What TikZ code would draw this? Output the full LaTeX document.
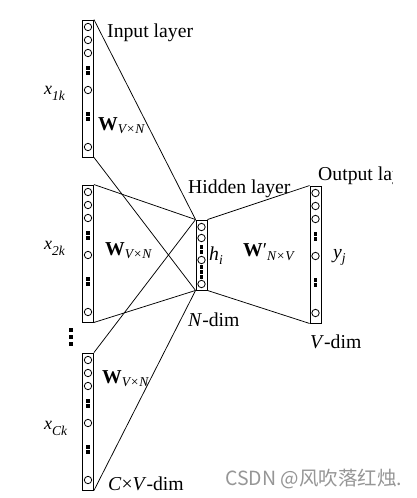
\documentclass[tikz,border=0pt]{standalone}
\usepackage{fontspec}
\setmainfont{Liberation Serif}
\newfontfamily\cjkfont{Noto Sans CJK SC}
\newcommand\lsub[2]{\raisebox{-#1pt}{\fontsize{13.5}{13.5}\selectfont\itshape #2}}
\tikzset{
  colbox/.style={draw, line width=0.9pt, rectangle, minimum width=11pt, inner sep=0pt},
  unit/.style={draw, circle, line width=0.8pt, minimum size=7.4pt, inner sep=0pt},
  sqdot/.style={fill=black, rectangle, minimum size=3.3pt, inner sep=0pt},
  conn/.style={line width=0.75pt},
  lbl/.style={font=\fontsize{19.7}{21}\selectfont, inner sep=0pt, anchor=base west},
  column/.pic={
    \node[colbox, minimum height=137pt] (-box) at (0,68.5) {};
    \foreach \o [count=\i] in {7,20,33,70,127} \node[unit] (-c\i) at (0,\o) {};
    \foreach \o [count=\i] in {48,53,94,99} \node[sqdot] (-d\i) at (0,\o) {};
  }
}
\begin{document}
\begin{tikzpicture}[x=1pt,y=-1pt]
\useasboundingbox (0,0) rectangle (417,498);
\clip (0,0) rectangle (417,498);
\fill[white] (0,0) rectangle (417,498);

% input columns
\pic (inA) at (88,20) {column};
\pic (inB) at (88,185) {column};
\pic (inC) at (88,353) {column};
\pic (outp) at (315.5,186) {column};

% hidden layer
\node[colbox, minimum height=70pt] (hid) at (201.5,255) {};
\foreach \o [count=\i] in {227,238,260,284} \node[unit] (h\i) at (201.5,\o) {};
\foreach \o [count=\i] in {247,252,267,272,277} \node[sqdot] (hd\i) at (201.5,\o) {};

% vertical dots between columns
\foreach \o [count=\i] in {330,337,344} \node[sqdot] (vd\i) at (71,\o) {};

% connectors
\draw[conn] (inA-box.north east) -- (hid.north west);
\draw[conn] (inA-box.south east) -- (hid.south west);
\draw[conn] (inB-box.north east) -- (hid.north west);
\draw[conn] (inB-box.south east) -- (hid.south west);
\draw[conn] (inC-box.north east) -- (hid.north west);
\draw[conn] (inC-box.south east) -- (hid.south west);
\draw[conn] (hid.north east) -- (outp-box.north west);
\draw[conn] (hid.south east) -- (outp-box.south west);

% labels
\node[lbl] (tin) at (107,37) {Input layer};
\node[lbl] (tx1) at (44,94) {{\fontsize{18}{18}\selectfont\itshape x}\lsub{6}{1k}};
\node[lbl] (tw1) at (98,130) {\textbf{W}\lsub{3}{V×N}};
\node[lbl] (tx2) at (44,249) {{\fontsize{18}{18}\selectfont\itshape x}\lsub{6}{2k}};
\node[lbl] (tw2) at (105,255) {\textbf{W}\lsub{3}{V×N}};
\node[lbl] (tx3) at (44,429) {{\fontsize{18}{18}\selectfont\itshape x}\lsub{6}{Ck}};
\node[lbl] (tw3) at (102,383) {\textbf{W}\lsub{3}{V×N}};
\node[lbl] (tcv) at (108,490) {\textit{C}×\textit{V}-dim};
\node[lbl] (thl) at (188,193) {Hidden layer};
\node[lbl] (thi) at (209,260) {\textit{h}\lsub{4}{i}};
\node[lbl] (tnd) at (188,326) {\textit{N}-dim};
\node[lbl] (twp) at (243,256) {\textbf{W}′\lsub{4}{N×V}};
\node[lbl] (tyj) at (333,258) {\textit{y}\lsub{4}{j}};
\begin{scope}
  \clip (300,150) rectangle (392,200);
  \node[lbl] (tol) at (318,180) {Output layer};
\end{scope}
\node[lbl] (tvd) at (310,348) {\textit{V}-dim};

% watermark
\node[inner sep=0pt, anchor=base west, font=\cjkfont\fontsize{19.5}{20}\selectfont, text={rgb,255:red,150;green,150;blue,150}] (wm) at (225,485) {CSDN @风吹落红烛.};
\end{tikzpicture}
\end{document}
